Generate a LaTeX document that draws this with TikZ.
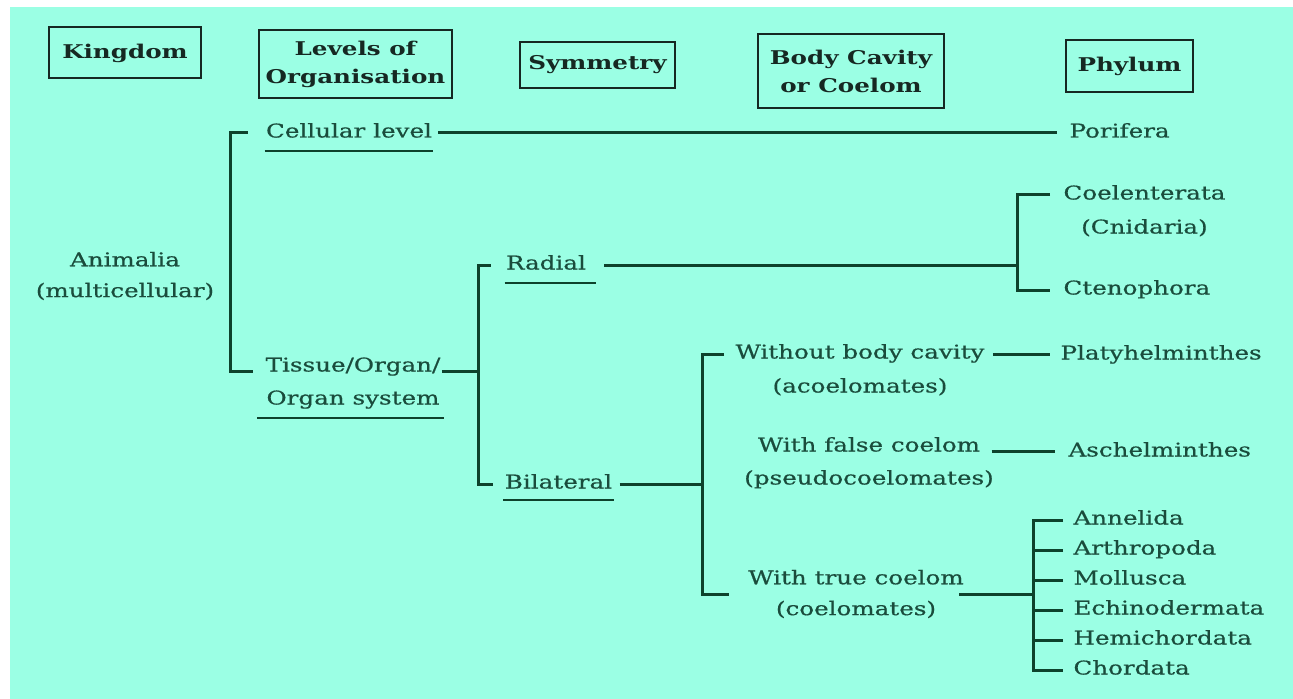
\documentclass[tikz,border=0pt]{standalone}
\usepackage{fontspec}
\setmainfont{DejaVu Serif}[FakeStretch=1.3,UprightFeatures={FakeBold=0.6}]
\usetikzlibrary{positioning}

\definecolor{bgcyan}{RGB}{155,255,228}
\definecolor{linegreen}{RGB}{14,66,44}
\definecolor{textgreen}{RGB}{26,76,60}
\definecolor{headink}{RGB}{22,40,34}

\begin{document}
\begin{tikzpicture}[x=1bp,y=-1bp,line width=3bp,draw=linegreen]
		\tikzstyle{head}=[draw=headink,line width=2bp,text=headink,align=center,inner sep=0pt,font=\bfseries\fontsize{19}{28}\selectfont]
		\tikzstyle{taxon}=[text=textgreen,inner sep=0pt,text height=14bp,text depth=5bp,font=\fontsize{19}{31}\selectfont]
		\tikzstyle{phylum}=[taxon,anchor=west]
		\tikzstyle{uline}=[line width=2bp]
		
		% Background
		\fill[white] (0,0) rectangle (1293,699);
		\fill[bgcyan] (10,7) rectangle (1293,699);
		\useasboundingbox (0,0) rectangle (1293,699);
		
		% Draw the column headers
		\node[head,minimum width=152bp,minimum height=51bp] (kingdom) at (125,53) {Kingdom};
		\node[head,minimum width=193bp,minimum height=68bp] (levels) at (355.5,64) {Levels of\\Organisation};
		\node[head,minimum width=155bp,minimum height=46bp] (symm) at (597.5,65) {Symmetry};
		\node[head,minimum width=186bp,minimum height=74bp] (cavity) at (851,71) {Body Cavity\\or Coelom};
		\node[head,minimum width=127bp,minimum height=52bp] (phyl) at (1129.5,66) {Phylum};
		
		% Kingdom and levels of organisation
		\node[taxon,align=center,text height=,text depth=] (animalia) at (125,276) {Animalia\\(multicellular)};
		\node[taxon] (cell) at (349,133) {Cellular level};
		\node[taxon] (tiss) at (353,367) {Tissue/Organ/};
		\node[taxon,below=11bp of tiss] (tiss2) {Organ system};
		
		% Symmetry
		\node[taxon] (radial) at (546,265) {Radial};
		\node[taxon] (bilat) at (558.5,484) {Bilateral};
		
		% Body cavity
		\node[taxon] (wbc) at (860,354) {Without body cavity};
		\node[taxon,below=12bp of wbc] (wbc2) {(acoelomates)};
		\node[taxon] (wfc) at (869,447) {With false coelom};
		\node[taxon,below=11bp of wfc] (wfc2) {(pseudocoelomates)};
		\node[taxon,align=center,text height=,text depth=] (wtc) at (856,594) {With true coelom\\(coelomates)};
		
		% Draw the phyla
		\node[phylum] (porifera) at (1068,133) {Porifera};
		\node[phylum] (coel) at (1062,195) {Coelenterata};
		\node[taxon,below=12bp of coel] (cnid) {(Cnidaria)};
		\node[phylum] (cteno) at (1062,290) {Ctenophora};
		\node[phylum] (platy) at (1059,355) {Platyhelminthes};
		\node[phylum] (asch) at (1067,452) {Aschelminthes};
		\foreach \name / \i in {Annelida/1,Arthropoda/2,Mollusca/3,Echinodermata/4,Hemichordata/5,Chordata/6}
		\node[phylum] (ph-\i) at (1072,{490+30*\i}) {\name};
		
		% Underlines
		\draw[uline] ([yshift=-7bp]cell.south west) -- ([yshift=-7bp]cell.south east);
		\draw[uline] ([yshift=-7bp,xshift=-8bp]tiss2.south west) -- ([yshift=-7bp,xshift=3bp]tiss2.south east);
		\draw[uline] ([yshift=-7bp]radial.south west) -- ([yshift=-7bp,xshift=9bp]radial.south east);
		\draw[uline] ([yshift=-5bp]bilat.south west) -- ([yshift=-5bp]bilat.south east);
		
		% Spines of the brackets
		\coordinate (kspine) at (230,0);
		\coordinate (sspine) at (478,0);
		\coordinate (cspine) at (1017,0);
		\coordinate (bspine) at (702,0);
		\coordinate (tspine) at (1033,0);
		
		% Connect the kingdom to the levels
		\draw[shorten <=17bp,shorten >=11bp] (cell.west) -- (cell.west -| kspine) -- (tiss.base west -| kspine) -- (tiss.base west);
		\draw[shorten <=5bp,shorten >=11bp] (cell.east) -- (porifera.west);
		
		% Connect the levels to the symmetry
		\draw (tiss.base east) -- (tiss.base east -| sspine);
		\draw[shorten <=14bp,shorten >=10bp] (radial.west) -- (radial.west -| sspine) -- (bilat.west -| sspine) -- (bilat.west);
		
		% Radial animals
		\draw[shorten <=17bp] (radial.east) -- (radial.east -| cspine);
		\draw[shorten <=12bp,shorten >=12bp] (coel.west) -- (coel.west -| cspine) -- (cteno.west -| cspine) -- (cteno.west);
		
		% Bilateral animals
		\draw[shorten <=6bp] (bilat.east) -- (bilat.east -| bspine);
		\draw[shorten <=10bp,shorten >=18bp] (wbc.west) -- (wbc.west -| bspine) -- (wtc.west -| bspine) -- (wtc.west);
		\draw[shorten <=7bp,shorten >=9bp] (wbc.east) -- (wbc.east -| platy.west);
		\draw[shorten <=10bp,shorten >=12bp] (wfc.base east) -- (asch.west |- wfc.base east);
		\draw[shorten <=-6bp] (wtc.east) -- (wtc.east -| tspine);
		\draw[shorten <=9bp,shorten >=9bp] (ph-1.west) -- (ph-1.west -| tspine) -- (ph-6.west -| tspine) -- (ph-6.west);
		\foreach \i in {2,...,5}
		\draw[shorten <=9bp] (ph-\i.west) -- (ph-\i.west -| tspine);
\end{tikzpicture}
\end{document}
